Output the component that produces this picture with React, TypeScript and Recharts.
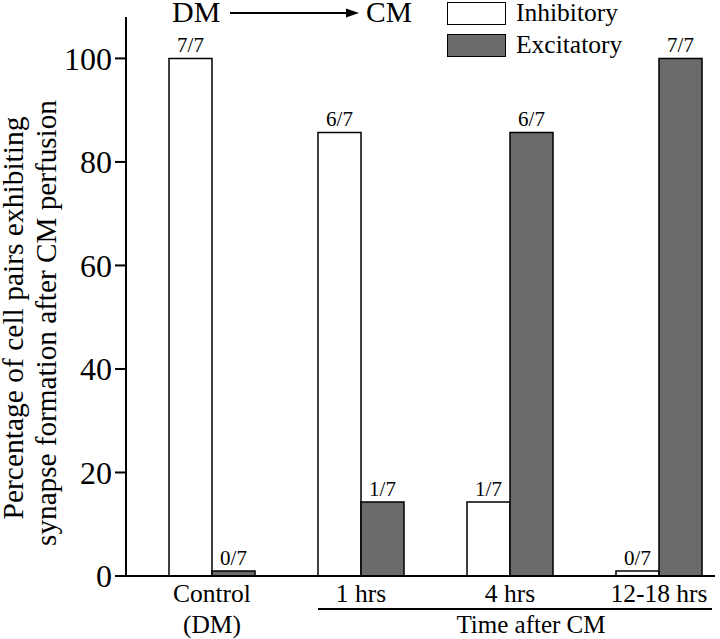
import { BarChart, Bar, XAxis, YAxis, LabelList, Legend } from 'recharts';

const categories = ['Control\n(DM)', '1 hrs', '4 hrs', '12-18 hrs'];
const inhibitory = [100, 85.7, 14.3, 0];
const excitatory = [0, 14.3, 85.7, 100];
const inhibitoryLabels = ['7/7', '6/7', '1/7', '0/7'];
const excitatoryLabels = ['0/7', '1/7', '6/7', '7/7'];
const yTicks = [0, 20, 40, 60, 80, 100];
const legendOrder = ['Inhibitory', 'Excitatory'];

const data = categories.map((group, i) => ({
  group,
  inhibitory: inhibitory[i],
  excitatory: excitatory[i],
  inhLabel: inhibitoryLabels[i],
  excLabel: excitatoryLabels[i],
}));

const W = 720;
const H = 639;
const FONT = 'Liberation Serif';

function CategoryTick({ x, y, payload }: any) {
  const lines = String(payload.value).split('\n');
  return (
    <text x={x} y={y} textAnchor="middle" fill="#000" style={{ fontFamily: FONT, fontSize: 25.5 }}>
      {lines.map((line, i) => (
        <tspan key={i} x={x} dy={i === 0 ? 26 : 31}>
          {line}
        </tspan>
      ))}
    </text>
  );
}

function LegendBoxes({ payload }: any) {
  const items = legendOrder
    .map((name) => (payload || []).find((p: any) => p.value === name))
    .filter(Boolean);
  return (
    <div style={{ fontFamily: FONT, fontSize: 25.5, lineHeight: '32px' }}>
      {items.map((item: any) => (
        <div key={item.value} style={{ display: 'flex', alignItems: 'center', height: 32 }}>
          <span
            style={{
              display: 'inline-block',
              width: 57,
              height: 21,
              background: item.color,
              border: '1.5px solid #000',
              marginRight: 10,
            }}
          />
          <span>{item.value}</span>
        </div>
      ))}
    </div>
  );
}

const textStyle = { fontFamily: FONT };

export default function App() {
  return (
    <div style={{ position: 'absolute', left: 0, top: 0, width: W, height: H, background: '#fff', fontFamily: FONT }}>
      <BarChart
        width={W}
        height={H}
        data={data}
        margin={{ top: 17, right: 5, left: 0, bottom: 3 }}
        barCategoryGap={31.5}
        barGap={0}
        style={{ fontFamily: FONT }}
      >
        <XAxis
          dataKey="group"
          interval={0}
          height={60}
          padding={{ left: 11.5, right: -18.5 }}
          axisLine={{ stroke: '#000', strokeWidth: 2 }}
          tickLine={false}
          tickSize={0}
          tickMargin={0}
          tick={<CategoryTick />}
        />
        <YAxis
          width={126}
          domain={[0, 108]}
          ticks={yTicks}
          allowDataOverflow
          axisLine={{ stroke: '#000', strokeWidth: 2 }}
          tickLine={{ stroke: '#000', strokeWidth: 2 }}
          tickSize={11}
          tickMargin={3}
          tick={{ fontSize: 32, fill: '#000', style: textStyle }}
        />
        <Legend
          layout="vertical"
          align="center"
          verticalAlign="middle"
          wrapperStyle={{ top: -3, left: 447, width: 240 }}
          content={<LegendBoxes />}
        />
        <Bar
          dataKey="inhibitory"
          name="Inhibitory"
          fill="#ffffff"
          stroke="#000"
          strokeWidth={1.5}
          minPointSize={5}
          isAnimationActive={false}
        >
          <LabelList dataKey="inhLabel" position="top" offset={6} style={{ fontSize: 21, fill: '#000', fontFamily: FONT }} />
        </Bar>
        <Bar
          dataKey="excitatory"
          name="Excitatory"
          fill="#6b6b6b"
          stroke="#000"
          strokeWidth={1.5}
          minPointSize={5}
          isAnimationActive={false}
        >
          <LabelList dataKey="excLabel" position="top" offset={6} style={{ fontSize: 21, fill: '#000', fontFamily: FONT }} />
        </Bar>
      </BarChart>
      <svg
        width={W}
        height={H}
        style={{ position: 'absolute', left: 0, top: 0, pointerEvents: 'none', fontFamily: FONT }}
      >
        <text x={172} y={22} fontSize={30} fill="#000">DM</text>
        <line x1={230} y1={13} x2={349} y2={13} stroke="#000" strokeWidth={2} />
        <polygon points="359,13 346,8.5 346,17.5" fill="#000" />
        <text x={366} y={22} fontSize={29.5} fill="#000">CM</text>
        <text transform="translate(23,318) rotate(-90)" textAnchor="middle" fontSize={29.5} fill="#000">
          Percentage of cell pairs exhibiting
        </text>
        <text transform="translate(56,323) rotate(-90)" textAnchor="middle" fontSize={29.2} fill="#000">
          synapse formation after CM perfusion
        </text>
        <line x1={318} y1={609} x2={712} y2={609} stroke="#000" strokeWidth={2} />
        <text x={531} y={633} textAnchor="middle" fontSize={25} fill="#000">Time after CM</text>
      </svg>
    </div>
  );
}
